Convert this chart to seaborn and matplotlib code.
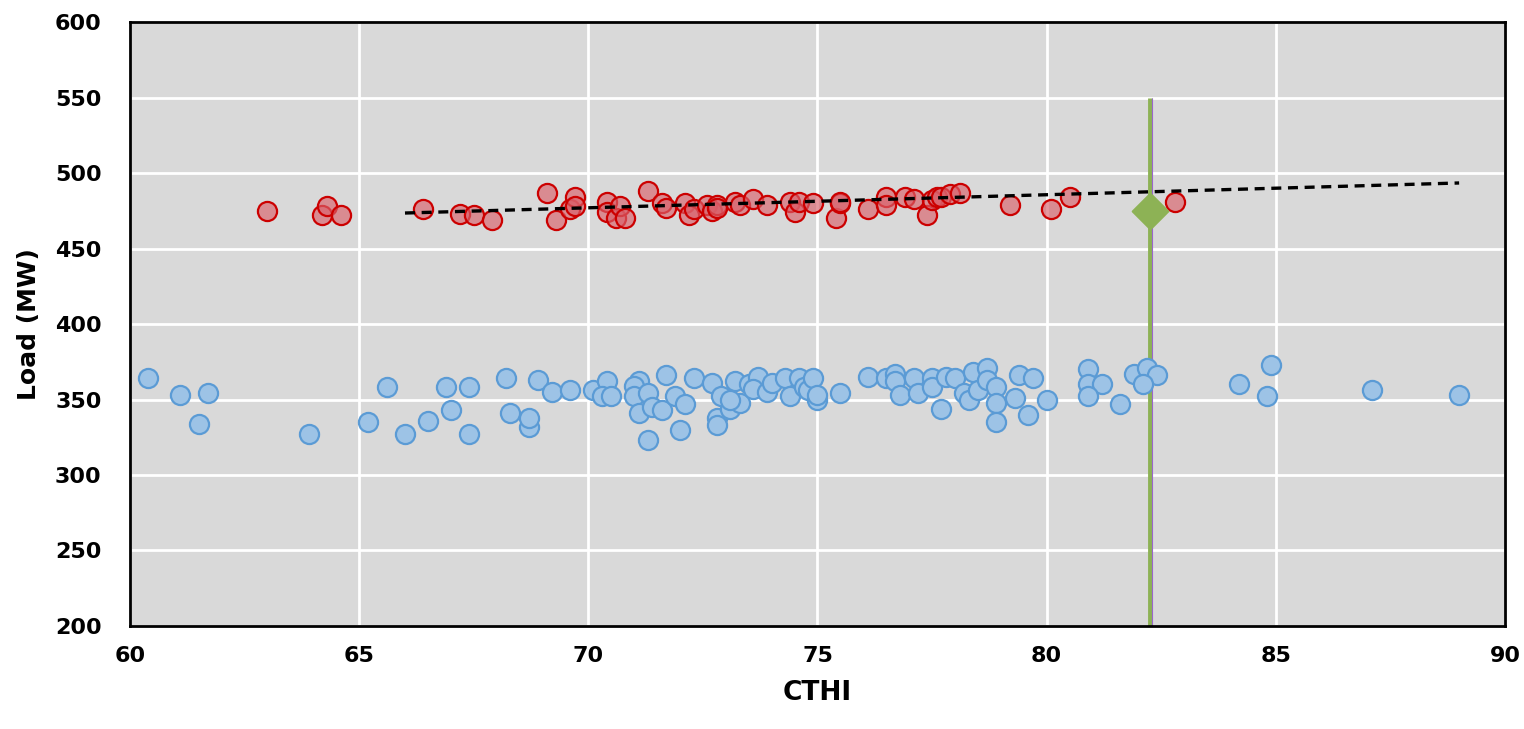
import matplotlib
matplotlib.use("Agg")
import matplotlib.pyplot as plt
import pandas as pd
import seaborn as sns

# high-load days (red)
red_cthi = [63.0, 64.2, 64.3, 64.6, 66.4, 67.2, 67.5, 67.9, 69.1, 69.3, 69.6, 69.7, 69.7,
            70.4, 70.4, 70.6, 70.7, 70.8, 71.3, 71.6, 71.7, 72.1, 72.2, 72.3, 72.6, 72.7,
            72.8, 72.8, 73.2, 73.3, 73.6, 73.9, 74.4, 74.5, 74.6, 74.9, 75.4, 75.5, 75.5,
            76.1, 76.5, 76.5, 76.9, 77.1, 77.4, 77.5, 77.6, 77.7, 77.9, 78.1, 79.2, 80.1,
            80.5, 82.8]
red_load = [475, 472, 478, 472, 476, 473, 472, 469, 487, 469, 476, 484, 478,
            481, 474, 470, 478, 470, 488, 480, 477, 480, 472, 476, 479, 475,
            479, 477, 481, 479, 483, 479, 481, 474, 481, 480, 470, 480, 481,
            476, 484, 479, 484, 483, 472, 482, 484, 484, 486, 487, 479, 476,
            484, 481]

# low-load days (blue)
blue_cthi = [60.4, 61.1, 61.5, 61.7, 63.9, 65.2, 65.6, 66.0, 66.5, 66.9, 67.0, 67.4, 67.4,
             68.2, 68.3, 68.7, 68.7, 68.9, 69.2, 69.6, 70.1, 70.4, 70.3, 70.5, 71.1, 71.0,
             71.0, 71.1, 71.3, 71.4, 71.6, 71.3, 71.7, 71.9, 72.0, 72.1, 72.3, 72.7, 72.8,
             72.8, 72.9, 73.1, 73.2, 73.3, 73.1, 73.5, 73.7, 73.6, 73.9, 74.0, 74.3, 74.4,
             74.6, 74.7, 74.8, 74.9, 75.0, 75.0, 75.5, 76.1, 76.5, 76.7, 76.7, 76.8, 77.1,
             77.2, 77.5, 77.5, 77.7, 77.8, 78.0, 78.2, 78.3, 78.4, 78.7, 78.5, 78.7, 78.9,
             78.9, 78.9, 79.3, 79.4, 79.7, 79.6, 80.0, 80.9, 80.9, 81.2, 80.9, 81.6, 81.9,
             82.2, 82.4, 82.1, 84.2, 84.9, 84.8, 87.1, 89.0]
blue_load = [364, 353, 334, 354, 327, 335, 358, 327, 336, 358, 343, 358, 327,
             364, 341, 332, 338, 363, 355, 356, 356, 362, 352, 352, 362, 359,
             352, 341, 354, 345, 343, 323, 366, 352, 330, 347, 364, 361, 338,
             333, 352, 344, 362, 348, 350, 360, 365, 357, 355, 361, 364, 352,
             364, 358, 356, 364, 350, 353, 354, 365, 364, 367, 362, 353, 364,
             354, 364, 358, 344, 365, 364, 354, 350, 368, 371, 356, 363, 358,
             348, 335, 351, 366, 364, 340, 350, 370, 360, 360, 352, 347, 367,
             371, 366, 360, 360, 373, 352, 356, 353]

trend_cthi = [66.0, 89.0]
trend_load = [473.5, 493.4]

# threshold marker
marker_cthi = [82.25]
marker_load = [475]
threshold_cthi = 82.25
threshold_range = (200, 550)

red_df = pd.DataFrame({"CTHI": red_cthi, "Load": red_load})
blue_df = pd.DataFrame({"CTHI": blue_cthi, "Load": blue_load})
trend_df = pd.DataFrame({"CTHI": trend_cthi, "Load": trend_load})
marker_df = pd.DataFrame({"CTHI": marker_cthi, "Load": marker_load})

sns.set_style("whitegrid")
plt.rcParams["font.family"] = ["DejaVu Sans"]
plt.rcParams["font.weight"] = "bold"

fig = plt.figure(figsize=(15.24, 7.29), dpi=100)
ax = fig.add_axes([0.0853, 0.1413, 0.9022, 0.8285])
ax.set_facecolor("#D9D9D9")

ax.vlines(threshold_cthi, *threshold_range, color="#8DB255", linewidth=3.5, zorder=2)
ax.vlines(threshold_cthi + 0.05, *threshold_range, color="#9966CC", linewidth=0.8, zorder=2)

sns.scatterplot(data=blue_df, x="CTHI", y="Load", ax=ax, s=190, color="#9DC3E6",
                edgecolor="#5B9BD5", linewidth=1.6, zorder=3, legend=False)
sns.scatterplot(data=red_df, x="CTHI", y="Load", ax=ax, s=190, color=(0.85, 0.38, 0.42, 0.65),
                edgecolor="#CC0000", linewidth=1.6, zorder=3, legend=False)
sns.lineplot(data=trend_df, x="CTHI", y="Load", ax=ax, color="black", linewidth=2.4,
             linestyle=(0, (3, 2)), zorder=4)
sns.scatterplot(data=marker_df, x="CTHI", y="Load", ax=ax, marker="D", s=330,
                color="#8DB255", edgecolor="#8DB255", zorder=5, legend=False)

ax.set_xlim(60, 90)
ax.set_ylim(200, 600)
ax.set_xticks(range(60, 91, 5))
ax.set_yticks(range(200, 601, 50))
ax.grid(True, color="white", linewidth=2)
ax.set_axisbelow(True)

for side in ["left", "bottom", "top", "right"]:
    ax.spines[side].set_visible(True)
    ax.spines[side].set_color("black")
    ax.spines[side].set_linewidth(2)

ax.tick_params(axis="both", direction="inout", length=9, width=2, color="black",
               labelsize=16, labelcolor="black")
ax.tick_params(axis="y", pad=16)
ax.tick_params(axis="x", pad=10)
for lab in ax.get_xticklabels() + ax.get_yticklabels():
    lab.set_fontweight("bold")

ax.set_xlabel("CTHI", fontsize=19, fontweight="bold", color="black", labelpad=10)
ax.set_ylabel("Load (MW)", fontsize=18, fontweight="bold", color="black", labelpad=10)

fig.savefig("out.png", dpi=100, facecolor="white")
